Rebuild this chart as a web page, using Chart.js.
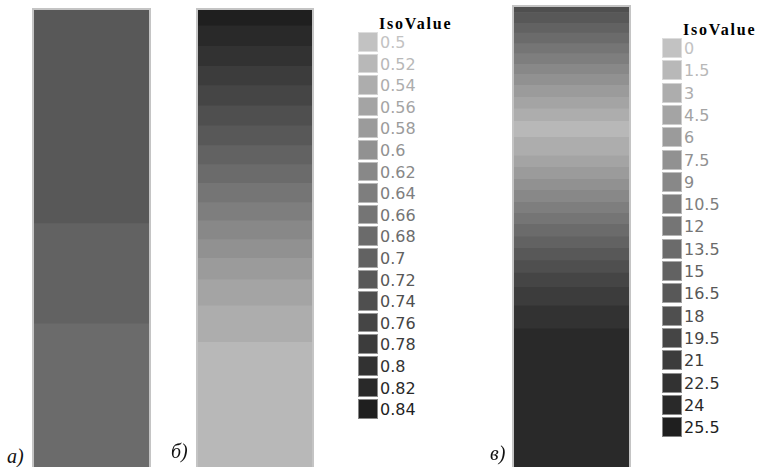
<!DOCTYPE html>
<html>
<head>
<meta charset="utf-8">
<script src="https://cdn.jsdelivr.net/npm/chart.js@4.4.0/dist/chart.umd.min.js"></script>
<style>
  body { margin: 0; width: 761px; height: 467px; overflow: hidden; position: relative; background: #fff; }
  .col { position: absolute; border: 2px solid #c4c4c4; border-bottom: none; }
  .col canvas { display: block; }
  .tag { position: absolute; font: italic 20px "Liberation Serif", serif; line-height: 20px; color: #111; }
  .legend { position: absolute; width: 110px; }
  .legend .title { position: absolute; left: 21px; top: -16px; font: bold 16px "Liberation Serif", serif; line-height: 16px; letter-spacing: 1.8px; color: #000; white-space: nowrap; }
  .legend .row { position: absolute; left: 0; }
  .legend .box { position: absolute; left: 0; top: 0; width: 20px; box-shadow: inset 0 0 0 1px rgba(255,255,255,0.45); }
  .legend .txt { position: absolute; left: 22px; font: 16px "DejaVu Sans", sans-serif; white-space: nowrap; }
</style>
</head>
<body>

<div class="col" style="left:32px; top:8px;"><canvas id="chart_a" width="115" height="457"></canvas></div>
<div class="col" style="left:196px; top:8px;"><canvas id="chart_b" width="114" height="457"></canvas></div>
<div class="col" style="left:512px; top:5px;"><canvas id="chart_v" width="115" height="460"></canvas></div>

<div class="tag" style="left:7px; top:446px;">а)</div>
<div class="tag" style="left:171px; top:441px;">б)</div>
<div class="tag" style="left:490px; top:443px;">в)</div>

<div class="legend" id="legend_b" style="left:358px; top:32px;"></div>
<div class="legend" id="legend_v" style="left:662px; top:38px;"></div>

<script>
// isolines legend values
const iso_b = [0.5, 0.52, 0.54, 0.56, 0.58, 0.6, 0.62, 0.64, 0.66, 0.68, 0.7, 0.72, 0.74, 0.76, 0.78, 0.8, 0.82, 0.84];
const iso_v = [0, 1.5, 3, 4.5, 6, 7.5, 9, 10.5, 12, 13.5, 15, 16.5, 18, 19.5, 21, 22.5, 24, 25.5];

// grey ramp, one shade per iso level (light -> dark)
const iso_colors = [
  "#c2c2c2", "#b8b8b8", "#adadad", "#a4a4a4", "#9b9b9b", "#919191",
  "#888888", "#7e7e7e", "#757575", "#6b6b6b", "#626262", "#585858",
  "#4f4f4f", "#454545", "#3c3c3c", "#323232", "#292929", "#1f1f1f",
];

// band boundaries along the column (% of column, top = 0) and level of each band
const depth_a = [0, 46.6, 68.5, 100];
const level_a = [11, 10, 9];

const depth_b = [0, 3.3, 7.8, 12.2, 16.4, 20.8, 25.2, 29.5, 33.7, 37.8, 42.0, 46.0, 50.1, 54.2, 58.9, 64.6, 72.6, 100];
const level_b = [17, 16, 15, 14, 13, 12, 11, 10, 9, 8, 7, 6, 5, 4, 3, 2, 1];

const depth_v = [0, 1.2, 3.4, 5.5, 7.8, 10.0, 12.3, 14.5, 16.9, 19.5, 22.0, 24.7, 28.2, 32.2,
  34.7, 37.3, 39.7, 42.3, 44.7, 47.1, 49.8, 52.3, 55.0, 57.7, 60.8, 64.8, 69.8, 100];
const level_v = [12, 11, 10, 9, 8, 7, 6, 5, 4, 3, 2, 1, 2, 3, 4, 5, 6, 7, 8, 9, 10, 11, 12, 13, 14, 15, 16];

function makeConfig(depth, level) {
  // each band is a floating bar [top, bottom] in the single column
  const datasets = level.map((lv, i) => ({
    data: [[depth[i], depth[i + 1]]],
    backgroundColor: iso_colors[lv],
    borderWidth: 0,
    barPercentage: 1,
    categoryPercentage: 1,
  }));
  return {
    type: "bar",
    data: { labels: [""], datasets: datasets },
    options: {
      responsive: false,
      animation: false,
      devicePixelRatio: 1,
      layout: { padding: 0 },
      scales: {
        x: { display: false, stacked: true },
        y: { display: false, stacked: false, min: 0, max: 100, reverse: true },
      },
      plugins: { legend: { display: false }, tooltip: { enabled: false } },
    },
  };
}

function makeLegend(id, values, rowH, boxH) {
  const el = document.getElementById(id);
  const title = document.createElement("div");
  title.className = "title";
  title.textContent = "IsoValue";
  el.appendChild(title);
  values.forEach((v, i) => {
    const row = document.createElement("div");
    row.className = "row";
    row.style.top = i * rowH + "px";
    const box = document.createElement("div");
    box.className = "box";
    box.style.height = boxH + "px";
    box.style.background = iso_colors[i];
    const txt = document.createElement("div");
    txt.className = "txt";
    txt.style.top = "1px";
    txt.style.lineHeight = boxH + "px";
    txt.style.color = iso_colors[i];
    txt.textContent = String(v);
    row.appendChild(box);
    row.appendChild(txt);
    el.appendChild(row);
  });
}

window.onload = () => {
  new Chart(document.getElementById("chart_a"), makeConfig(depth_a, level_a));
  new Chart(document.getElementById("chart_b"), makeConfig(depth_b, level_b));
  new Chart(document.getElementById("chart_v"), makeConfig(depth_v, level_v));
  makeLegend("legend_b", iso_b, 21.6, 19.5);
  makeLegend("legend_v", iso_v, 22.3, 20);
};
</script>
</body>
</html>
